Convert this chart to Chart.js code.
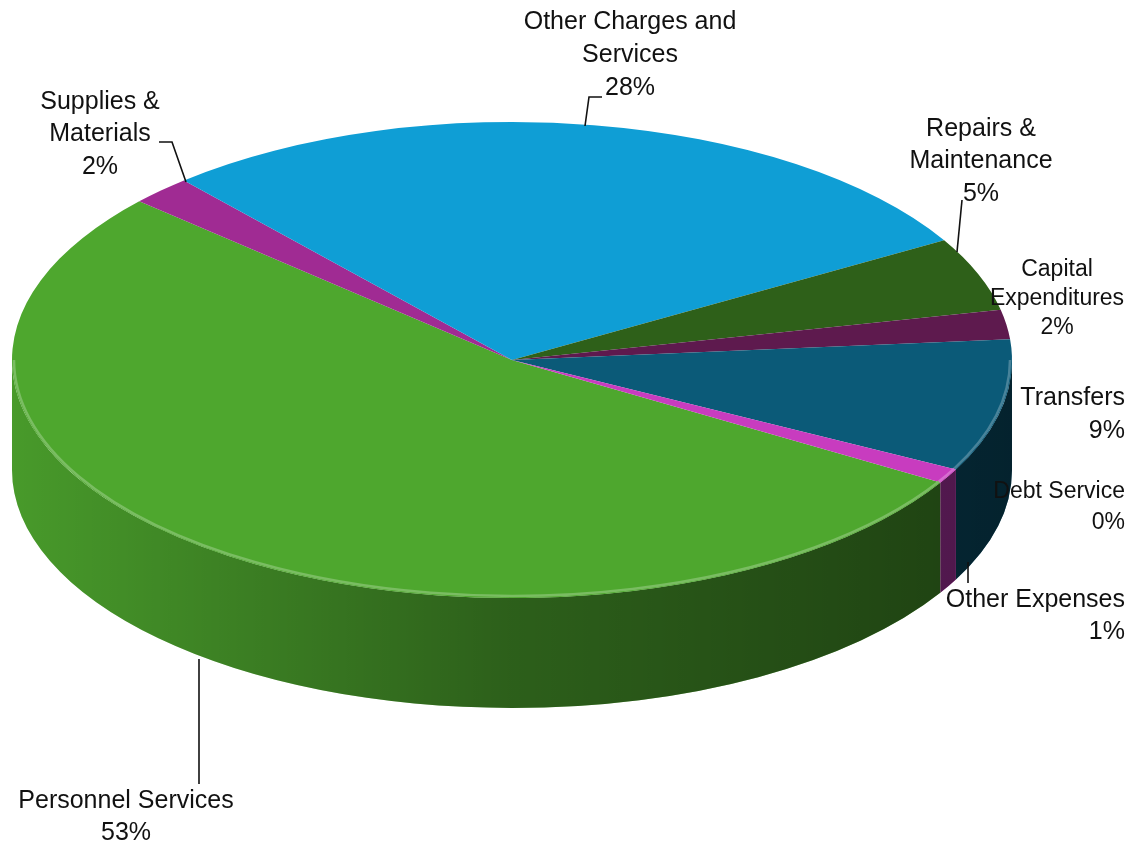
<!DOCTYPE html>
<html>
<head>
<meta charset="utf-8">
<script src="https://cdn.jsdelivr.net/npm/chart.js@4.4.1/dist/chart.umd.min.js"></script>
<style>
  body { margin: 0; background: #fff; }
  #wrap { width: 1137px; height: 846px; position: relative; }
</style>
</head>
<body>
<div id="wrap"><canvas id="budgetPie"></canvas></div>
<script>
var categories = ["Personnel Services", "Supplies & Materials", "Other Charges and Services",
  "Repairs & Maintenance", "Capital Expenditures", "Transfers", "Debt Service", "Other Expenses"];
var shares = [53, 2, 28, 5, 2, 9, 0, 1];
var sliceColors = ["#4ea72e", "#a02b93", "#0f9ed5", "#2e6019", "#5e1a4e", "#0b5a78", "#7f7f7f", "#c83cbf"];

// where each label sits (first line middle), words on the first line, leader line points
var labelLayout = [
  { x: 126, y: 801, words: 2, align: "center", lh: 32, lead: [[199, 659], [199, 784]] },
  { x: 100, y: 102, words: 2, align: "center", lh: 32.5, lead: [[186, 182], [172, 142], [159, 142]] },
  { x: 630, y: 22, words: 3, align: "center", lh: 33, lead: [[585, 126], [589, 97], [602, 97]] },
  { x: 981, y: 129, words: 2, align: "center", lh: 32.5, lead: [[957, 252], [962, 200]] },
  { x: 1057, y: 270, words: 1, align: "center", lh: 29, size: 23 },
  { x: 1125, y: 398, words: 1, align: "right", lh: 33 },
  { x: 1125, y: 492, words: 2, align: "right", lh: 31, size: 23 },
  { x: 1125, y: 600, words: 2, align: "right", lh: 32, lead: [[968, 562], [968, 583]] }
];

// ellipse of the pie top and thickness of the cylinder
var CX = 512, CY = 360, RX = 500, RY = 238, DEPTH = 110;

function frontSpans(start, end) {
  var spans = [];
  for (var k = -1; k <= 2; k++) {
    var a = Math.max(start, k * 2 * Math.PI);
    var b = Math.min(end, k * 2 * Math.PI + Math.PI);
    if (b > a) spans.push([a, b]);
  }
  return spans;
}

function sidePath(ctx, a, b) {
  ctx.beginPath();
  ctx.moveTo(CX + RX * Math.cos(a), CY + RY * Math.sin(a));
  ctx.ellipse(CX, CY, RX, RY, 0, a, b, false);
  ctx.lineTo(CX + RX * Math.cos(b), CY + DEPTH + RY * Math.sin(b));
  ctx.ellipse(CX, CY + DEPTH, RX, RY, 0, b, a, true);
  ctx.closePath();
}

function lighten(hex, f) {
  var n = parseInt(hex.slice(1), 16);
  var r = n >> 16, g = (n >> 8) & 255, b = n & 255;
  r = Math.round(r + (255 - r) * f); g = Math.round(g + (255 - g) * f); b = Math.round(b + (255 - b) * f);
  return "rgb(" + r + "," + g + "," + b + ")";
}

var pie3d = {
  id: "pie3d",
  beforeDatasetsDraw: function (chart) {
    var ctx = chart.ctx;
    var arcs = chart.getDatasetMeta(0).data;

    // cylinder wall, front half only
    var shadow = ctx.createLinearGradient(CX - RX, 0, CX + RX, 0);
    shadow.addColorStop(0, "rgba(0,0,0,0.08)");
    shadow.addColorStop(0.5, "rgba(0,0,0,0.43)");
    shadow.addColorStop(1, "rgba(0,0,0,0.62)");
    arcs.forEach(function (arc, i) {
      frontSpans(arc.startAngle, arc.endAngle).forEach(function (s) {
        sidePath(ctx, s[0], s[1]);
        ctx.fillStyle = sliceColors[i];
        ctx.fill();
        ctx.fillStyle = shadow;
        ctx.fill();
      });
    });

    // squash the round pie into the ellipse of the top face
    var a0 = arcs[0];
    ctx.save();
    ctx.translate(CX, CY);
    ctx.scale(RX / a0.outerRadius, RY / a0.outerRadius);
    ctx.translate(-a0.x, -a0.y);
  },
  afterDatasetsDraw: function (chart) {
    var ctx = chart.ctx;
    ctx.restore();
    var arcs = chart.getDatasetMeta(0).data;

    // light bevel along the front rim
    ctx.save();
    ctx.lineWidth = 2.5;
    arcs.forEach(function (arc, i) {
      frontSpans(arc.startAngle, arc.endAngle).forEach(function (s) {
        ctx.beginPath();
        ctx.ellipse(CX, CY, RX - 2, RY - 2, 0, s[0], s[1], false);
        ctx.strokeStyle = lighten(sliceColors[i], 0.25);
        ctx.stroke();
      });
    });
    ctx.restore();

    // data labels with leader lines
    ctx.save();
    ctx.fillStyle = "#111";
    ctx.strokeStyle = "#111";
    ctx.lineWidth = 1.6;
    ctx.textBaseline = "middle";
    labelLayout.forEach(function (l, i) {
      var words = categories[i].split(" ");
      var lines = [words.slice(0, l.words).join(" ")];
      if (words.length > l.words) lines.push(words.slice(l.words).join(" "));
      lines.push(shares[i] + "%");
      ctx.font = (l.size || 25) + 'px "Liberation Sans", Arial, sans-serif';
      ctx.textAlign = l.align;
      lines.forEach(function (t, j) {
        ctx.fillText(t, l.x, l.y + j * l.lh);
      });
      if (l.lead) {
        ctx.beginPath();
        ctx.moveTo(l.lead[0][0], l.lead[0][1]);
        for (var k = 1; k < l.lead.length; k++) ctx.lineTo(l.lead[k][0], l.lead[k][1]);
        ctx.stroke();
      }
    });
    ctx.restore();
  }
};

var budgetChart = new Chart(document.querySelector("#budgetPie"), {
  type: "pie",
  data: {
    labels: categories,
    datasets: [{
      data: shares,
      backgroundColor: sliceColors,
      borderWidth: 0
    }]
  },
  options: {
    responsive: true,
    maintainAspectRatio: false,
    animation: false,
    rotation: 121,
    layout: { padding: 0 },
    plugins: {
      legend: { display: false },
      tooltip: { enabled: false }
    }
  },
  plugins: [pie3d]
});
</script>
</body>
</html>
